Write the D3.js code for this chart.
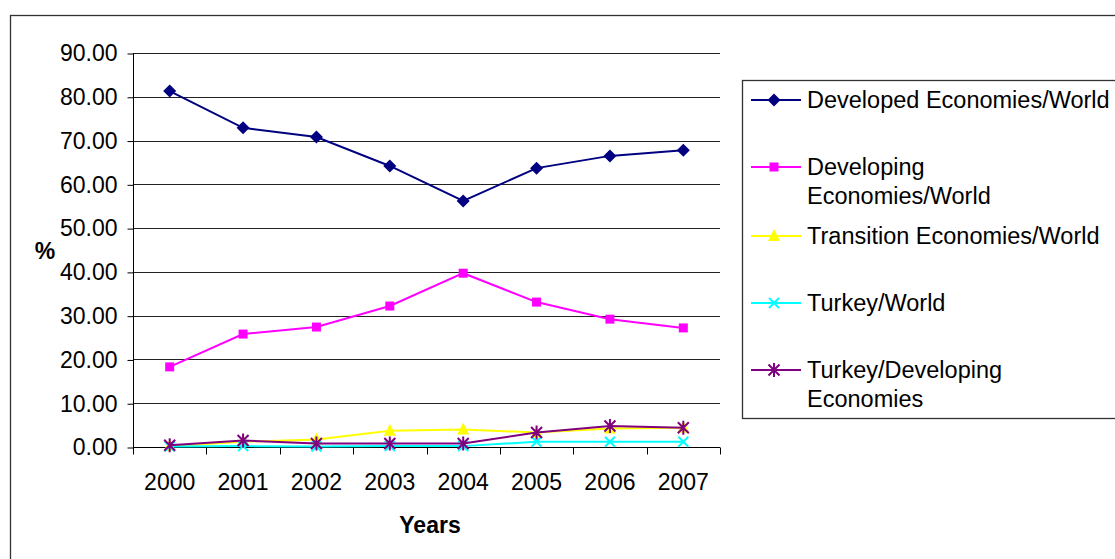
<!DOCTYPE html>
<html>
<head>
<meta charset="utf-8">
<script src="https://cdn.jsdelivr.net/npm/d3@7"></script>
<style>
  html, body { margin: 0; padding: 0; background: #fff; }
  svg { display: block; font-family: "Liberation Sans", Arial, sans-serif; }
</style>
</head>
<body>
<svg id="chart" width="1115" height="559"></svg>
<script>
// Share of FDI by economy group, 2000–2007 (% of world / developing totals)
const years = ["2000", "2001", "2002", "2003", "2004", "2005", "2006", "2007"];
const yTicks = [0, 10, 20, 30, 40, 50, 60, 70, 80, 90];

const developedWorld   = [81.3, 72.9, 70.8, 64.2, 56.2, 63.7, 66.5, 67.8];
const developingWorld  = [18.3, 25.8, 27.4, 32.2, 39.7, 33.1, 29.2, 27.2];
const transitionWorld  = [0.2, 1.2, 1.7, 3.7, 4.0, 3.3, 4.2, 4.4];
const turkeyWorld      = [0.1, 0.2, 0.1, 0.2, 0.2, 1.2, 1.2, 1.2];
const turkeyDeveloping = [0.4, 1.5, 0.8, 0.8, 0.8, 3.3, 4.8, 4.4];

const seriesNames = [
  ["Developed Economies/World"],
  ["Developing", "Economies/World"],
  ["Transition Economies/World"],
  ["Turkey/World"],
  ["Turkey/Developing", "Economies"]
];
const seriesColors = ["#000080", "#FF00FF", "#FFFF00", "#00FFFF", "#800080"];
const seriesSymbols = ["diamond", "square", "triangle", "cross", "star"];
const seriesValues = [developedWorld, developingWorld, transitionWorld, turkeyWorld, turkeyDeveloping];

const series = seriesNames.map((name, i) => ({
  name, color: seriesColors[i], symbol: seriesSymbols[i], values: seriesValues[i]
}));

const svg = d3.select("#chart");
const FONT = 23;
const LEGEND_FONT = 23.5;

// Outer chart frame (runs off the right and bottom edges)
svg.append("rect")
  .attr("x", 10.5).attr("y", 15.5)
  .attr("width", 1200).attr("height", 700)
  .attr("fill", "#fff").attr("stroke", "#333").attr("stroke-width", 1.3);

const plot = { left: 133, right: 720, top: 53, bottom: 447 };

const x = d3.scaleBand().domain(years).range([plot.left, plot.right]);
const y = d3.scaleLinear().domain([0, 90]).range([plot.bottom, plot.top]);

// Horizontal gridlines
svg.append("g").selectAll("line")
  .data(yTicks.filter(d => d > 0))
  .join("line")
  .attr("x1", plot.left).attr("x2", plot.right)
  .attr("y1", d => Math.round(y(d)) + 0.5).attr("y2", d => Math.round(y(d)) + 0.5)
  .attr("stroke", "#222").attr("stroke-width", 1);

// Y axis
const yAxis = svg.append("g")
  .attr("transform", `translate(${plot.left + 0.5},0.5)`)
  .call(d3.axisLeft(y).tickValues(yTicks).tickFormat(d3.format(".2f")).tickSize(6).tickPadding(10));
yAxis.select(".domain").attr("stroke", "#000").attr("d", `M0,${plot.top}V${plot.bottom}`);
yAxis.selectAll(".tick line").attr("stroke", "#000");
yAxis.selectAll("text").attr("font-size", FONT).attr("fill", "#000")
  .attr("font-family", "Liberation Sans, Arial, sans-serif");

// X axis: ticks sit between categories
const xAxis = svg.append("g")
  .attr("transform", `translate(0,${plot.bottom + 0.5})`);
xAxis.append("line")
  .attr("x1", plot.left).attr("x2", plot.right)
  .attr("stroke", "#000");
const bounds = years.map(d => x(d)).concat([plot.right]);
xAxis.selectAll("line.tk").data(bounds).join("line").attr("class", "tk")
  .attr("x1", d => Math.round(d) + 0.5).attr("x2", d => Math.round(d) + 0.5)
  .attr("y1", 0).attr("y2", 7).attr("stroke", "#000");
xAxis.selectAll("text").data(years).join("text")
  .attr("x", d => x(d) + x.bandwidth() / 2)
  .attr("y", 42.5)
  .attr("text-anchor", "middle")
  .attr("font-size", FONT)
  .text(d => d);

// Axis titles
svg.append("text").attr("x", 430).attr("y", 532.5)
  .attr("text-anchor", "middle").attr("font-size", FONT).attr("font-weight", "bold")
  .text("Years");
svg.append("text").attr("x", 45).attr("y", 259)
  .attr("text-anchor", "middle").attr("font-size", FONT).attr("font-weight", "bold")
  .text("%");

// Marker drawing
function drawMarker(g, type, color) {
  switch (type) {
    case "diamond":
      g.append("path").attr("d", "M0,-6.5L6.5,0L0,6.5L-6.5,0Z").attr("fill", color);
      break;
    case "square":
      g.append("rect").attr("x", -4.5).attr("y", -4.5).attr("width", 9).attr("height", 9).attr("fill", color);
      break;
    case "triangle":
      g.append("path").attr("d", "M0,-7L6,5L-6,5Z").attr("fill", color);
      break;
    case "cross":
      g.append("path").attr("d", "M-5,-5L5,5M-5,5L5,-5").attr("stroke", color).attr("stroke-width", 2).attr("fill", "none");
      break;
    case "star":
      g.append("path").attr("d", "M-5.5,-5.5L5.5,5.5M-5.5,5.5L5.5,-5.5M0,-7V7").attr("stroke", color).attr("stroke-width", 2).attr("fill", "none");
      break;
  }
}

const cx = d => x(d) + x.bandwidth() / 2;
const line = d3.line().x((v, i) => cx(years[i])).y(v => y(v));

series.forEach(s => {
  const g = svg.append("g");
  g.append("path").attr("d", line(s.values))
    .attr("fill", "none").attr("stroke", s.color).attr("stroke-width", 2);
  s.values.forEach((v, i) => {
    const m = g.append("g").attr("transform", `translate(${cx(years[i])},${y(v)})`);
    drawMarker(m, s.symbol, s.color);
  });
});

// Legend
svg.append("rect")
  .attr("x", 742.5).attr("y", 80.5).attr("width", 500).attr("height", 338)
  .attr("fill", "#fff").attr("stroke", "#333").attr("stroke-width", 1.3);

const legendRows = [100, 167, 236, 303, 370];
series.forEach((s, i) => {
  const g = svg.append("g").attr("transform", `translate(0,${legendRows[i]})`);
  g.append("line").attr("x1", 751).attr("x2", 801).attr("y1", 0).attr("y2", 0)
    .attr("stroke", s.color).attr("stroke-width", 2);
  drawMarker(g.append("g").attr("transform", "translate(774,0)"), s.symbol, s.color);
  s.name.forEach((t, j) => {
    g.append("text").attr("x", 807).attr("y", 8 + j * 28.5)
      .attr("font-size", LEGEND_FONT).text(t);
  });
});
</script>
</body>
</html>
